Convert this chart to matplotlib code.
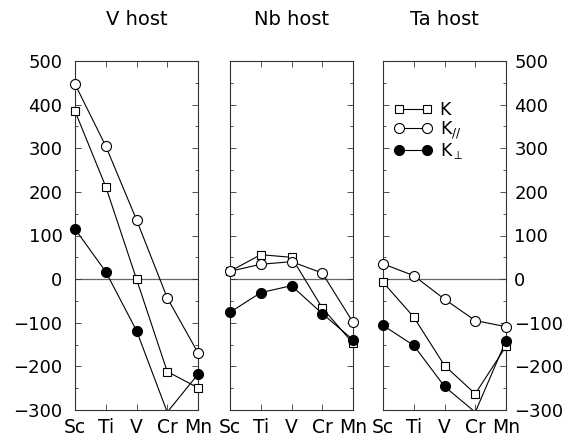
import numpy as np
import matplotlib
matplotlib.use("Agg")
import matplotlib.pyplot as plt
from matplotlib.ticker import MultipleLocator

plt.rcParams["font.family"] = ["DejaVu Sans"]
plt.rcParams["mathtext.fontset"] = "dejavusans"

impurities = ["Sc", "Ti", "V", "Cr", "Mn"]
hosts = ["V host", "Nb host", "Ta host"]

# Anisotropy values per host, one list per impurity row
K_v = [385, 212, 0, -212, -249]
K_par_v = [447, 305, 136, -43, -169]
K_perp_v = [115, 17, -118, -305, -218]

K_nb = [18, 56, 50, -66, -147]
K_par_nb = [18, 34, 40, 14, -99]
K_perp_nb = [-76, -31, -15, -79, -139]

K_ta = [-7, -87, -198, -263, -154]
K_par_ta = [35, 8, -46, -95, -109]
K_perp_ta = [-106, -152, -246, -305, -141]

series = [
    (K_v, K_par_v, K_perp_v),
    (K_nb, K_par_nb, K_perp_nb),
    (K_ta, K_par_ta, K_perp_ta),
]

W, H = 569, 438
fig = plt.figure(figsize=(W / 100, H / 100), dpi=100)

lefts = [75, 230, 383]
pw = 123
top, bot = 61, 410

ymin, ymax = -300, 500
x = np.arange(len(impurities))

styles = [
    dict(marker="s", mfc="white", mec="black", ms=6.2, label="K"),
    dict(marker="o", mfc="white", mec="black", ms=7.2, label=r"K$_{//}$"),
    dict(marker="o", mfc="black", mec="black", ms=7.2, label=r"K$_{\perp}$"),
]

axes = []
for i, (l, name, data) in enumerate(zip(lefts, hosts, series)):
    ax = fig.add_axes([l / W, 1 - bot / H, pw / W, (bot - top) / H])
    axes.append(ax)
    ax.axhline(0, color="#666666", lw=0.9, zorder=1)
    for vals, st in zip(data, styles):
        vals = np.asarray(vals, dtype=float)
        ax.plot(x, vals, color="black", lw=0.8, zorder=2)
        inside = (vals >= ymin) & (vals <= ymax)
        ax.plot(x[inside], vals[inside], ls="none", marker=st["marker"],
                mfc=st["mfc"], mec=st["mec"], ms=st["ms"], mew=0.8,
                clip_on=False, zorder=3)
    ax.set_xlim(0, len(impurities) - 1)
    ax.set_ylim(ymin, ymax)
    ax.set_xticks(x)
    ax.set_xticklabels(impurities)
    ax.yaxis.set_major_locator(MultipleLocator(100))
    ax.yaxis.set_minor_locator(MultipleLocator(50))
    ax.tick_params(axis="both", which="both", direction="in",
                   top=True, bottom=True, left=True, right=True,
                   width=0.6, color="#333333")
    ax.tick_params(which="major", length=4.5)
    ax.tick_params(which="minor", length=2.5)
    ax.tick_params(axis="x", labelsize=13.5, pad=6)
    ax.tick_params(axis="y", labelsize=13, pad=9 if i == 0 else 6)
    for sp in ax.spines.values():
        sp.set_linewidth(0.8)
        sp.set_color("#333333")
    ax.set_title(name, fontsize=14, pad=26)
    if i == 0:
        ax.tick_params(axis="y", labelleft=True, labelright=False)
    elif i == 2:
        ax.tick_params(axis="y", labelleft=False, labelright=True)
    else:
        ax.tick_params(axis="y", labelleft=False, labelright=False)

# Legend in the Ta panel
ax = axes[2]
handles = []
for st in styles:
    h, = ax.plot([], [], color="black", lw=0.8, marker=st["marker"],
                 mfc=st["mfc"], mec=st["mec"], ms=st["ms"], mew=0.8)
    handles.append(h)
ax.legend(handles, [s["label"] for s in styles], loc="upper left",
          bbox_to_anchor=(-0.04, 0.93), frameon=False, fontsize=12.5,
          handlelength=2.2, handletextpad=0.45, labelspacing=0.0,
          numpoints=2)

fig.savefig("out.png", dpi=100)
